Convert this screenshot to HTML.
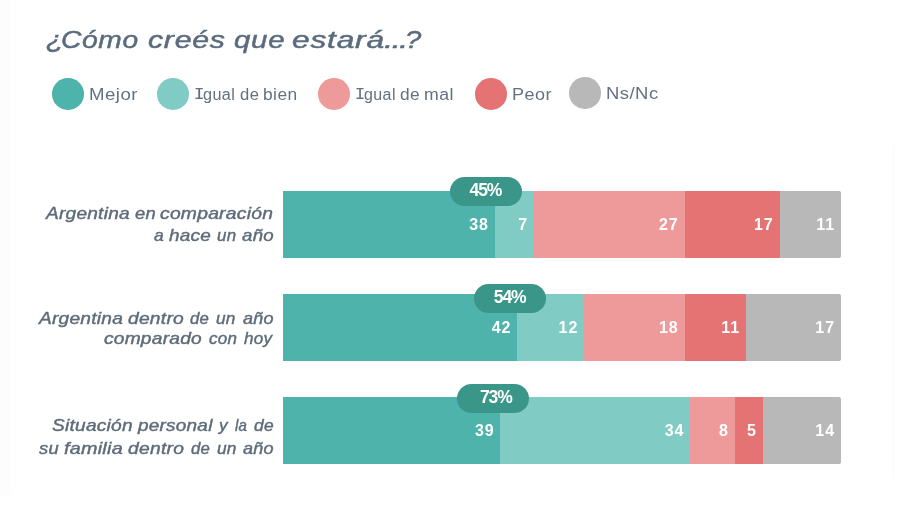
<!DOCTYPE html>
<html lang="es">
<head>
<meta charset="utf-8">
<title>¿Cómo creés que estará...?</title>
<style>
html,body{margin:0;padding:0;background:#fff;}
body{width:900px;height:505px;position:relative;overflow:hidden;font-family:"Liberation Sans",sans-serif;}
.abs{position:absolute;}
.grp{position:absolute;left:0;top:0;width:0;height:0;}
.t{position:absolute;white-space:nowrap;display:block;transform-origin:0 50%;}
.title{font-size:24.5px;font-style:italic;color:#5b6b7e;line-height:32px;letter-spacing:0.6px;-webkit-text-stroke:0.5px #5b6b7e;}
.dot{width:31.6px;height:31.6px;border-radius:50%;top:78.1px;}
.lg{font-size:15.8px;line-height:20px;color:#627182;letter-spacing:0.4px;}
.lab{font-style:italic;font-size:15.7px;line-height:22px;color:#5e6b7a;letter-spacing:0.2px;-webkit-text-stroke:0.4px #5e6b7a;}
.bar{left:282.8px;width:558.2px;height:66.8px;display:flex;border-radius:0 2px 2px 0;overflow:hidden;}
.seg{height:100%;box-sizing:border-box;color:#fff;font-weight:bold;font-size:16px;line-height:68.2px;text-align:right;padding-right:6px;letter-spacing:0.9px;}
.c1{background:#4db3ab;}
.c2{background:#80cbc4;}
.c3{background:#ef9a9a;}
.c4{background:#e57373;}
.c5{background:#b8b8b8;}
.pill{width:71.6px;height:29px;box-sizing:border-box;border-radius:14.5px;background:#399688;color:#fff;font-weight:bold;font-size:17.5px;line-height:27.4px;text-align:center;letter-spacing:-1.1px;text-indent:-1.1px;}
.edgeL{left:0;top:0;width:11px;height:495px;background:#fdfdfd;}
.edgeR{left:892.5px;top:145px;width:1px;height:333px;background:#fafafa;}
</style>
</head>
<body>
<div class="abs edgeL"></div>
<div class="abs edgeR"></div>

<div class="abs dot c1" style="left:52px"></div>
<div class="abs dot c2" style="left:157px"></div>
<div class="abs dot c3" style="left:318px"></div>
<div class="abs dot c4" style="left:475px"></div>
<div class="abs dot c5" style="left:569px;top:77.2px"></div>

<div class="grp"><span id="tw0" class="t title" style="left:45.84px;top:23.4px;transform:translateY(0.6px) scaleX(1.1459)">¿</span> <span id="tw1" class="t title" style="left:61.25px;top:23.4px;transform:translateY(0.6px) scaleX(1.1490)">Cómo</span> <span id="tw2" class="t title" style="left:147.69px;top:23.4px;transform:translateY(0.6px) scaleX(1.2351)">creés</span> <span id="tw3" class="t title" style="left:234.04px;top:23.4px;transform:translateY(0.6px) scaleX(1.1997)">que</span> <span id="tw4" class="t title" style="left:292.10px;top:23.4px;transform:translateY(0.6px) scaleX(1.2951)">estará</span> <span id="tw5" class="t title" style="letter-spacing:-1.4px;left:383.84px;top:23.4px;transform:translateY(0.6px) scaleX(1.3757)">...</span> <span id="tw6" class="t title" style="left:405.46px;top:23.4px;transform:translateY(0.6px) scaleX(1.1901)">?</span></div>
<div class="grp"><span id="la0" class="t lg" style="left:89.42px;top:84.6px;transform:translateY(0px) scaleX(1.1795)">Mejor</span></div>
<div class="grp"><span id="lb0" class="t lg" style="font-family:'Liberation Mono',monospace;letter-spacing:0;-webkit-text-stroke:0.2px #627182;left:193.95px;top:84.6px;transform:translateY(0px) scaleX(1.0972)">I</span><span id="lb1" class="t lg" style="left:203.44px;top:84.6px;transform:translateY(0px) scaleX(1.0253)">gual</span> <span id="lb2" class="t lg" style="left:239.89px;top:84.6px;transform:translateY(0px) scaleX(1.0512)">de</span> <span id="lb3" class="t lg" style="left:262.68px;top:84.6px;transform:translateY(0px) scaleX(1.0997)">bien</span></div>
<div class="grp"><span id="lc0" class="t lg" style="font-family:'Liberation Mono',monospace;letter-spacing:0;-webkit-text-stroke:0.2px #627182;left:354.85px;top:84.6px;transform:translateY(0px) scaleX(1.0683)">I</span><span id="lc1" class="t lg" style="left:364.23px;top:84.6px;transform:translateY(0px) scaleX(1.0131)">gual</span> <span id="lc2" class="t lg" style="left:399.99px;top:84.6px;transform:translateY(0px) scaleX(1.0966)">de</span> <span id="lc3" class="t lg" style="left:423.89px;top:84.6px;transform:translateY(0px) scaleX(1.1190)">mal</span></div>
<div class="grp"><span id="ld0" class="t lg" style="left:511.68px;top:84.6px;transform:translateY(0px) scaleX(1.1391)">Peor</span></div>
<div class="grp"><span id="le0" class="t lg" style="left:606.44px;top:83.6px;transform:translateY(0px) scaleX(1.1689)">Ns/Nc</span></div>
<div class="grp"><span id="ra0" class="t lab" style="left:45.85px;top:202.8px;transform:translateY(0px) scaleX(1.2161)">Argentina</span> <span id="ra1" class="t lab" style="left:134.53px;top:202.8px;transform:translateY(0px) scaleX(1.1696)">en</span> <span id="ra2" class="t lab" style="left:160.35px;top:202.8px;transform:translateY(0px) scaleX(1.2294)">comparación</span></div>
<div class="grp"><span id="rb0" class="t lab" style="left:154.47px;top:224.9px;transform:translateY(0px) scaleX(1.1117)">a</span> <span id="rb1" class="t lab" style="left:169.17px;top:224.9px;transform:translateY(0px) scaleX(1.2094)">hace</span> <span id="rb2" class="t lab" style="left:216.94px;top:224.9px;transform:translateY(0px) scaleX(1.0786)">un</span> <span id="rb3" class="t lab" style="left:241.53px;top:224.9px;transform:translateY(0px) scaleX(1.1907)">año</span></div>
<div class="grp"><span id="rc0" class="t lab" style="left:38.85px;top:307.5px;transform:translateY(0px) scaleX(1.2191)">Argentina</span> <span id="rc1" class="t lab" style="left:127.85px;top:307.5px;transform:translateY(0px) scaleX(1.2255)">dentro</span> <span id="rc2" class="t lab" style="left:190.16px;top:307.5px;transform:translateY(0px) scaleX(1.0681)">de</span> <span id="rc3" class="t lab" style="left:216.41px;top:307.5px;transform:translateY(0px) scaleX(1.1011)">un</span> <span id="rc4" class="t lab" style="left:242.94px;top:307.5px;transform:translateY(0px) scaleX(1.1480)">año</span></div>
<div class="grp"><span id="rd0" class="t lab" style="left:103.54px;top:328.2px;transform:translateY(0px) scaleX(1.2194)">comparado</span> <span id="rd1" class="t lab" style="left:208.82px;top:328.2px;transform:translateY(0px) scaleX(1.0832)">con</span> <span id="rd2" class="t lab" style="left:244.14px;top:328.2px;transform:translateY(0px) scaleX(1.0868)">hoy</span></div>
<div class="grp"><span id="re0" class="t lab" style="left:52.41px;top:414.9px;transform:translateY(0px) scaleX(1.2186)">Situación</span> <span id="re1" class="t lab" style="left:138.46px;top:414.9px;transform:translateY(0px) scaleX(1.2074)">personal</span> <span id="re2" class="t lab" style="left:219.01px;top:414.9px;transform:translateY(0px) scaleX(1.0895)">y</span> <span id="re3" class="t lab" style="left:235.49px;top:414.9px;transform:translateY(0px) scaleX(0.9583)">la</span> <span id="re4" class="t lab" style="left:253.66px;top:414.9px;transform:translateY(0px) scaleX(1.1073)">de</span></div>
<div class="grp"><span id="rf0" class="t lab" style="left:39.37px;top:437.5px;transform:translateY(0px) scaleX(1.1732)">su</span> <span id="rf1" class="t lab" style="left:63.88px;top:437.5px;transform:translateY(0px) scaleX(1.2606)">familia</span> <span id="rf2" class="t lab" style="left:128.03px;top:437.5px;transform:translateY(0px) scaleX(1.2279)">dentro</span> <span id="rf3" class="t lab" style="left:190.75px;top:437.5px;transform:translateY(0px) scaleX(1.0676)">de</span> <span id="rf4" class="t lab" style="left:216.76px;top:437.5px;transform:translateY(0px) scaleX(1.1053)">un</span> <span id="rf5" class="t lab" style="left:242.94px;top:437.5px;transform:translateY(0px) scaleX(1.1480)">año</span></div>

<div class="abs bar" style="top:191.4px">
  <div class="seg c1" style="width:38%">38</div><div class="seg c2" style="width:7%">7</div><div class="seg c3" style="width:27%">27</div><div class="seg c4" style="width:17%">17</div><div class="seg c5" style="width:11%">11</div>
</div>
<div class="abs bar" style="top:293.9px">
  <div class="seg c1" style="width:42%">42</div><div class="seg c2" style="width:12%">12</div><div class="seg c3" style="width:18%">18</div><div class="seg c4" style="width:11%">11</div><div class="seg c5" style="width:17%">17</div>
</div>
<div class="abs bar" style="top:397.1px">
  <div class="seg c1" style="width:39%">39</div><div class="seg c2" style="width:34%">34</div><div class="seg c3" style="width:8%">8</div><div class="seg c4" style="width:5%">5</div><div class="seg c5" style="width:14%">14</div>
</div>

<div class="abs pill" style="left:449.8px;top:176.8px;width:72.3px">45%</div>
<div class="abs pill" style="left:474.2px;top:283.6px;width:72.2px">54%</div>
<div class="abs pill" style="left:457px;top:384px;padding-left:7px">73%</div>
</body>
</html>
